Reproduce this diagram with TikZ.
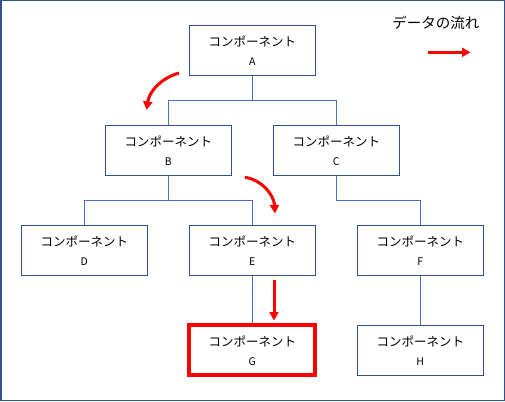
\documentclass[tikz,border=0pt]{standalone}
\usepackage{fontspec}
\newfontfamily\jp{Noto Sans CJK JP}
\usetikzlibrary{arrows.meta}
\definecolor{framec}{HTML}{2F528F}
\definecolor{boxc}{HTML}{2F528F}
\definecolor{linkc}{HTML}{4472C4}
\definecolor{flowc}{HTML}{FF0000}
\tikzset{
  comp/.style={draw=boxc, line width=0.9pt, rectangle, minimum width=126pt, minimum height=50pt, inner sep=0pt, fill=white},
  jtxt/.style={font=\jp\fontsize{12.5}{14}\selectfont, inner sep=0pt},
  ltxt/.style={font=\jp\fontsize{10.5}{12}\selectfont, inner sep=0pt},
  link/.style={draw=linkc, line width=0.9pt},
  flow/.style={draw=flowc, line width=3pt, -{Triangle[length=8.5pt,width=9pt]}},
  sel/.style={draw=flowc, line width=4pt}
}
\newcommand{\compbox}[5][]{%
  \node[comp,#1] (#2) at (#3) {};
  \node[jtxt] (#2t) at ([yshift=9pt]#2.center) {コンポーネント};
  \node[ltxt] (#2l) at ([yshift=-11pt]#2.center) {#4};
}
\begin{document}
\begin{tikzpicture}[x=1pt,y=-1pt]
\useasboundingbox (0,0) rectangle (505,401);
\fill[white] (0,0) rectangle (505,401);
\draw[framec, line width=1.5pt] (0.75,0.75) rectangle (504.25,400.25);

\compbox{A}{252.3,50.3}{A}{}
\compbox{B}{168.3,150.2}{B}{}
\compbox{C}{336.3,150.2}{C}{}
\compbox{D}{84.3,250.2}{D}{}
\compbox{E}{252.3,250.2}{E}{}
\compbox{F}{420.3,250.2}{F}{}
\compbox[sel]{G}{252.3,350.2}{G}{}
\compbox{H}{420.3,350.3}{H}{}

\draw[link] (A.south) -- ++(0,25) -| (B.north);
\draw[link] (A.south) -- ++(0,25) -| (C.north);
\draw[link] (B.south) -- ++(0,25) -| (D.north);
\draw[link] (B.south) -- ++(0,25) -| (E.north);
\draw[link] (C.south) -- ++(0,25) -| (F.north);
\draw[link] (E.south) -- (G.north);
\draw[link] (F.south) -- (H.north);

\coordinate (f1s) at (179,73);
\coordinate (f1e) at (146.7,110);
\draw[flow] (f1s) .. controls (161,78) and (149,92) .. (f1e);
\coordinate (f2s) at (245,177.3);
\coordinate (f2e) at (275,213.5);
\draw[flow] (f2s) .. controls (262,180) and (274,195) .. (f2e);
\coordinate (f3s) at (274,279.5);
\coordinate (f3e) at (274,320.5);
\draw[flow] (f3s) -- (f3e);

\node[font=\jp\fontsize{14.5}{16}\selectfont, inner sep=0pt] (legend) at (435.8,23.3) {データの流れ};
\coordinate (l1) at (428.3,52.3);
\coordinate (l2) at (470.5,52.3);
\draw[flow] (l1) -- (l2);
\end{tikzpicture}
\end{document}
